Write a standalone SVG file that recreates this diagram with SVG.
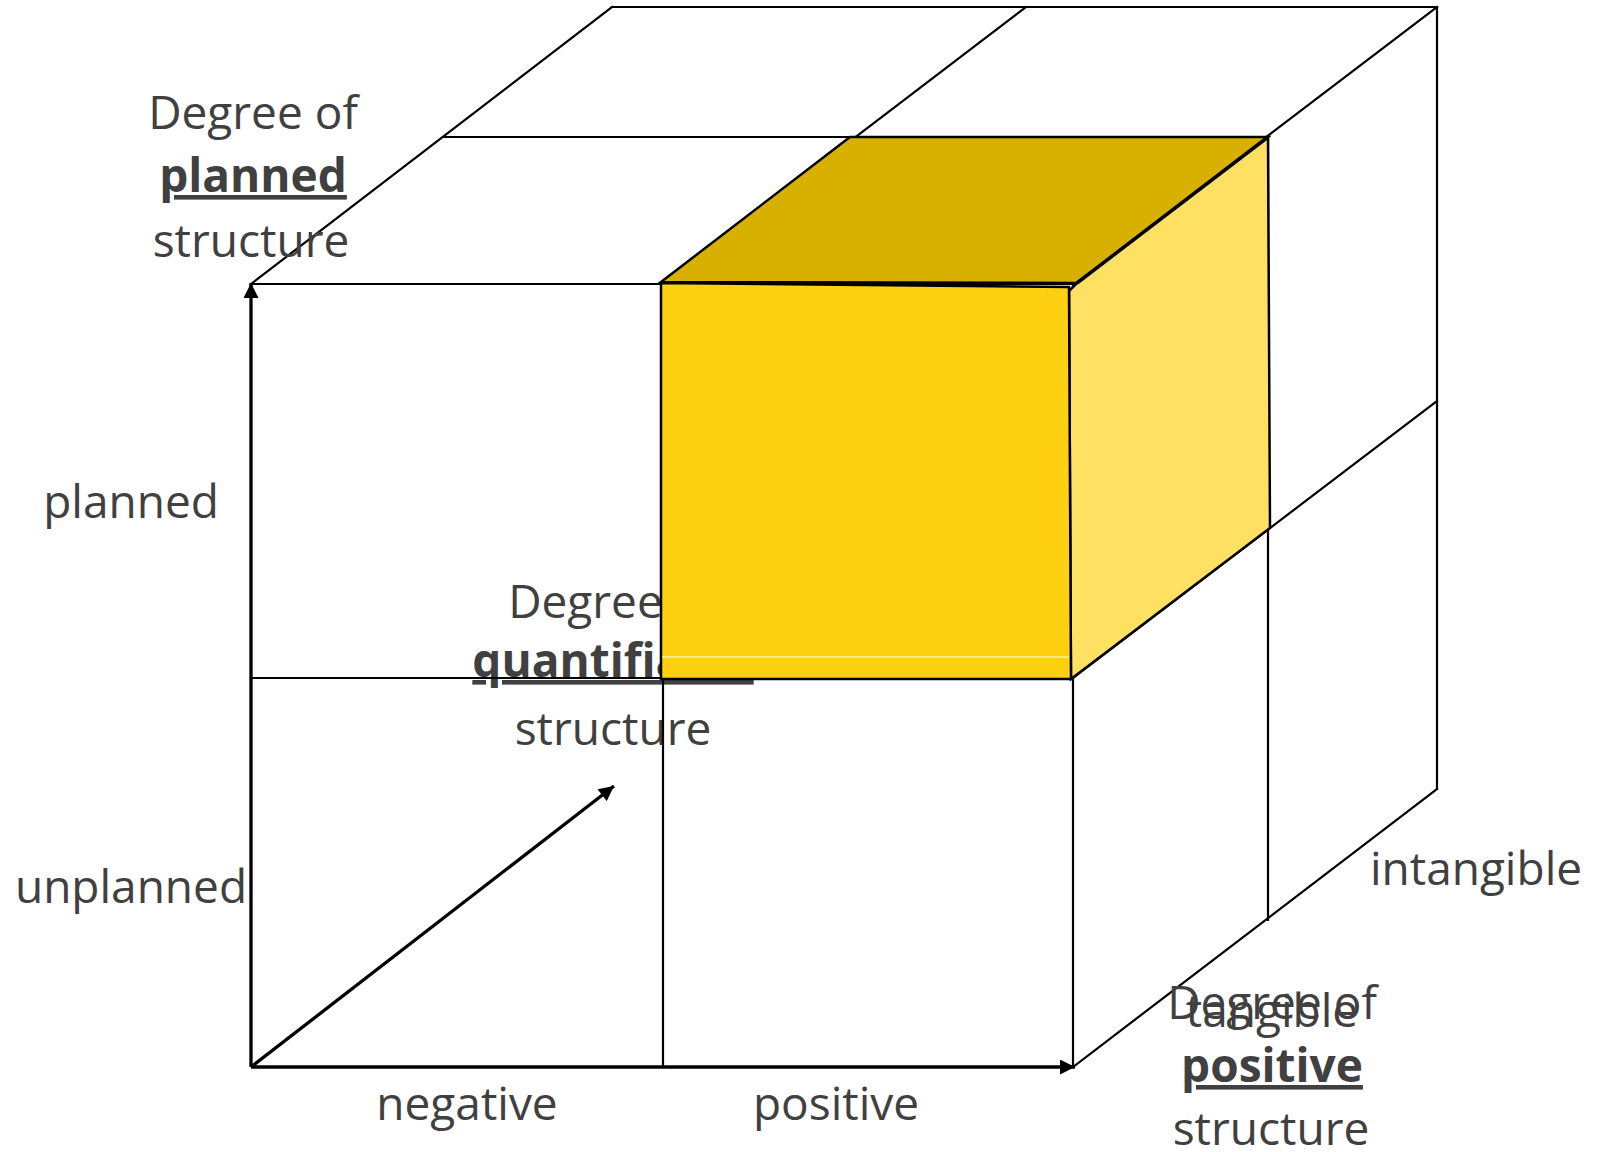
<svg xmlns="http://www.w3.org/2000/svg" width="1603" height="1152" viewBox="0 0 1603 1152">
<defs>
<style>
.g{stroke:#000;stroke-width:2.2;fill:none;stroke-linecap:square}
.ax{stroke:#000;stroke-width:3.3;fill:none}
.t{font-family:"Open Sans","Liberation Sans",sans-serif;font-size:46px;fill:#404040;text-anchor:middle}
.b{font-weight:bold;text-decoration:underline}
.edge{stroke:#000;stroke-width:2.5;stroke-linejoin:miter}
</style>
<marker id="ah" viewBox="0 0 10 10" refX="10" refY="5" markerWidth="16" markerHeight="15" markerUnits="userSpaceOnUse" orient="auto">
<path d="M0,0 L10,5 L0,10 z" fill="#000"/>
</marker>
</defs>
<rect width="1603" height="1152" fill="#fff"/>

<g id="label-quantifiable">
<text class="t" x="613" y="618">Degree of</text>
<text class="t b" x="613" y="677">quantifiable</text>
<text class="t" x="613" y="745">structure</text>
</g>

<g id="grid">
<line class="g" x1="251" y1="284" x2="612" y2="7"/>
<line class="g" x1="612" y1="7" x2="1437" y2="7"/>
<line class="g" x1="443" y1="137" x2="1268" y2="137"/>
<line class="g" x1="663" y1="284" x2="1026" y2="7"/>
<line class="g" x1="251" y1="284" x2="1073" y2="284" stroke-width="1.6"/>
<line class="g" x1="1073" y1="284" x2="1437" y2="7"/>
<line class="g" x1="1437" y1="7" x2="1437" y2="789"/>
<line class="g" x1="1268" y1="137" x2="1268" y2="920"/>
<line class="g" x1="1073" y1="678" x2="1437" y2="401"/>
<line class="g" x1="1073" y1="1067" x2="1437" y2="789"/>
<line class="g" x1="1073" y1="284" x2="1073" y2="1067"/>
<line class="g" x1="663" y1="284" x2="663" y2="1067"/>
<line class="g" x1="251" y1="678" x2="1073" y2="678"/>
</g>

<g id="highlight-cube">
<polygon points="661,282 850,137 1268,137 1077,283" fill="#D8B100" class="edge"/>
<polygon points="1069,291 1077,283 1268,137 1270,528 1071,679" fill="#FEE062" class="edge"/>
<polygon points="661,283 1069,287 1071,679 661,679" fill="#FDD112" class="edge"/>
<line x1="662" y1="657" x2="1069" y2="657" stroke="#fff" stroke-width="1"/>
<line x1="1077" y1="283" x2="1268" y2="137" stroke="#000" stroke-width="3.5"/>
</g>

<g id="connectors">
<line class="ax" x1="251" y1="1067" x2="251" y2="283" marker-end="url(#ah)"/>
<line class="ax" x1="251" y1="1067" x2="1075" y2="1067" marker-end="url(#ah)"/>
<line class="ax" x1="251" y1="1067" x2="614" y2="786" marker-end="url(#ah)" stroke-width="2.5"/>
</g>

<g id="label-planned-axis">
<text class="t" x="253" y="129">Degree of</text>
<text class="t b" x="253" y="192">planned</text>
<text class="t" x="251" y="257">structure</text>
</g>
<g id="label-planned"><text class="t" x="131" y="518">planned</text></g>
<g id="label-unplanned"><text class="t" x="131" y="903">unplanned</text></g>
<g id="label-negative"><text class="t" x="467" y="1120">negative</text></g>
<g id="label-positive"><text class="t" x="836" y="1120">positive</text></g>
<g id="label-intangible"><text class="t" x="1476" y="885">intangible</text></g>
<g id="label-tangible"><text class="t" x="1272" y="1027">tangible</text></g>
<g id="label-positive-axis">
<text class="t" x="1272" y="1019">Degree of</text>
<text class="t b" x="1272" y="1082">positive</text>
<text class="t" x="1271" y="1145">structure</text>
</g>
</svg>
